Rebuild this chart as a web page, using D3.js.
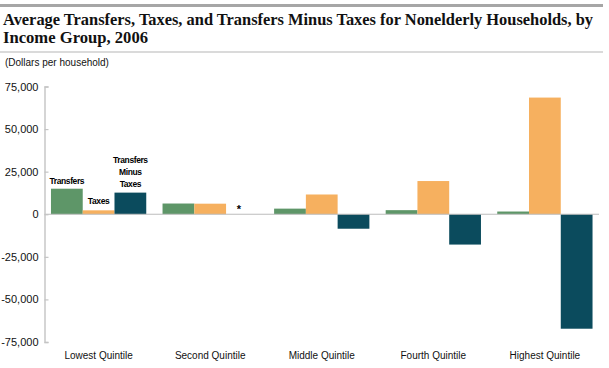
<!DOCTYPE html>
<html><head><meta charset="utf-8">
<script src="https://cdn.jsdelivr.net/npm/d3@7"></script>
<style>
html,body{margin:0;padding:0;background:#fff;}
svg{display:block;font-family:"Liberation Sans",Arial,sans-serif;}
</style></head>
<body>
<svg id="chart" width="609" height="368"></svg>
<script>
const categories = ["Lowest Quintile","Second Quintile","Middle Quintile","Fourth Quintile","Highest Quintile"];
const seriesNames = ["Transfers","Taxes","Transfers Minus Taxes"];
const transfers = [15000, 6300, 3300, 2400, 1600];
const taxes = [2300, 6200, 11600, 19500, 68500];
const transfersMinusTaxes = [12700, 0, -8500, -17800, -67200];
const tickValues = [-75000, -50000, -25000, 0, 25000, 50000, 75000];
const seriesColors = ["#5e9668", "#f6b05f", "#0b4b5d"];
const seriesValues = [transfers, taxes, transfersMinusTaxes];

const svg = d3.select("#chart");

// top rule
svg.append("rect").attr("x",0).attr("y",4).attr("width",603).attr("height",3).attr("fill","#a6a6a6");
// title
const title = svg.append("text").style("font-family","'Liberation Serif','Times New Roman',serif")
  .attr("font-weight","bold").attr("font-size",17.5).attr("fill","#111");
title.append("tspan").attr("x",3).attr("y",25)
  .attr("textLength",590).attr("lengthAdjust","spacingAndGlyphs")
  .text("Average Transfers, Taxes, and Transfers Minus Taxes for Nonelderly Households, by");
title.append("tspan").attr("x",3).attr("y",43)
  .attr("textLength",145).attr("lengthAdjust","spacingAndGlyphs")
  .text("Income Group, 2006");
svg.append("rect").attr("x",0).attr("y",51.5).attr("width",603).attr("height",1).attr("fill","#b5b5b5");
svg.append("text").attr("x",5).attr("y",66).attr("font-size",10).attr("fill","#111")
  .text("(Dollars per household)");

const x0 = d3.scaleBand().domain(categories).range([44.5, 599]).paddingInner(0.146).paddingOuter(0.058);
const x1 = d3.scaleBand().domain(seriesNames).range([0, x0.bandwidth()]).padding(0);
const y = d3.scaleLinear().domain([-75000, 75000]).range([342, 86.5]);

// bars
const data = [];
categories.forEach((c,i)=>{
  seriesNames.forEach((s,j)=>{ data.push({c, s, j, v: seriesValues[j][i]}); });
});
svg.append("g").selectAll("rect").data(data).join("rect")
  .attr("x", d=>x0(d.c)+x1(d.s))
  .attr("width", x1.bandwidth())
  .attr("y", d=>y(Math.max(0,d.v)))
  .attr("height", d=>Math.abs(y(d.v)-y(0)))
  .attr("fill", d=>seriesColors[d.j]);

// zero line
svg.append("line").attr("x1",44.5).attr("x2",599).attr("y1",y(0)).attr("y2",y(0))
  .attr("stroke","#bdbdbd").attr("stroke-width",1.2);

// y axis
const fmt = d3.format(",");
const yAxis = d3.axisLeft(y).tickValues(tickValues).tickSize(-4).tickPadding(6)
  .tickFormat(d=>fmt(d).replace("\u2212","-"));
const ga = svg.append("g").attr("transform","translate(44.5,0)").call(yAxis);
ga.attr("font-family","'Liberation Sans',Arial,sans-serif");
ga.select(".domain").attr("stroke","#c4c4c4").attr("stroke-width",1.4);
ga.selectAll(".tick line").attr("stroke","#c4c4c4").attr("stroke-width",1.2);
ga.selectAll(".tick text").attr("font-size",11).attr("fill","#111");

// category labels
svg.append("g").selectAll("text").data(categories).join("text")
  .attr("x", d=>x0(d)+x0.bandwidth()/2).attr("y",359)
  .attr("text-anchor","middle").attr("font-size",10).attr("fill","#111")
  .text(d=>d);

// series labels on lowest quintile
const c0 = categories[0];
const lbl = svg.append("g").attr("font-weight","bold").attr("font-size",8.5).attr("fill","#000")
  .attr("text-anchor","middle").attr("letter-spacing",-0.4);
lbl.append("text").attr("x", x0(c0)+x1(seriesNames[0])+x1.bandwidth()/2).attr("y", y(transfers[0])-5).text("Transfers");
lbl.append("text").attr("x", x0(c0)+x1(seriesNames[1])+x1.bandwidth()/2).attr("y", y(taxes[0])-6).text("Taxes");
const tx = x0(c0)+x1(seriesNames[2])+x1.bandwidth()/2;
const ty = y(transfersMinusTaxes[0]);
["Transfers","Minus","Taxes"].forEach((t,k)=>{
  lbl.append("text").attr("x",tx).attr("y",ty-6-(2-k)*11.7).text(t);
});
// asterisk for near-zero value
svg.append("text").attr("x", x0(categories[1])+x1(seriesNames[2])+x1.bandwidth()/2-3).attr("y", y(0)-1)
  .attr("text-anchor","middle").attr("font-size",11).attr("font-weight","bold").text("*");
</script>
</body></html>
